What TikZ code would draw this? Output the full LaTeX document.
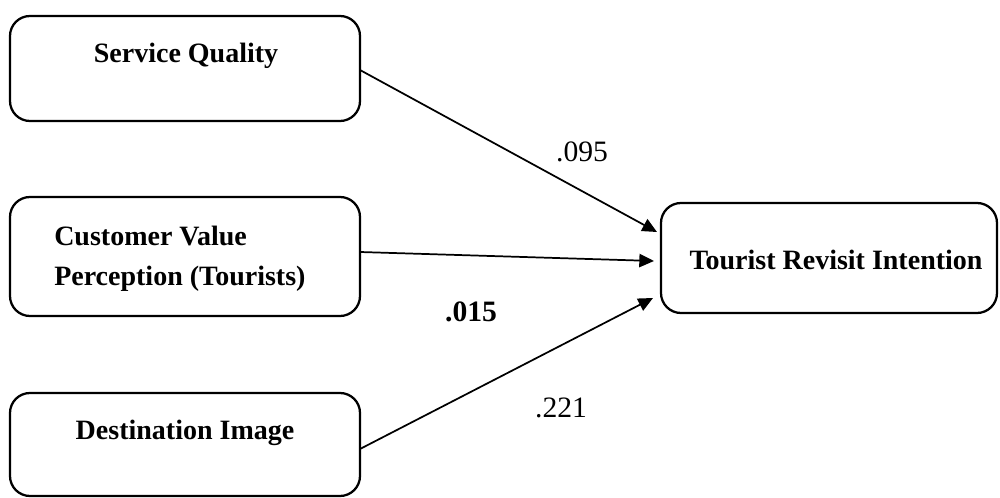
\documentclass[tikz,border=0pt]{standalone}
\usepackage{fontspec}
\setmainfont{Liberation Serif}
\usetikzlibrary{arrows.meta}
\begin{document}
\begin{tikzpicture}[x=0.75pt,y=-0.75pt,
  box/.style={draw, line width=1.7pt, rounded corners=15pt, inner sep=0pt, outer sep=0pt},
  boxtext/.style={inner sep=0pt, font=\bfseries\fontsize{21}{30.5}\selectfont},
  coef/.style={inner sep=0pt, font=\fontsize{22.2}{26}\selectfont},
  path/.style={line width=1.3pt, -{Triangle[length=11pt,width=10pt]}}]
\useasboundingbox (0,0) rectangle (1000,498);
% boxes
\node[box, minimum width=262.5pt, minimum height=78.75pt] (sq) at (185,68.5) {};
\node[box, minimum width=262.5pt, minimum height=89.25pt] (cv) at (185,256.5) {};
\node[box, minimum width=262.5pt, minimum height=77.25pt] (di) at (185,444.5) {};
\node[box, minimum width=252pt, minimum height=82.5pt] (tri) at (829,258) {};
% texts
\node[boxtext, anchor=base] (sqt) at (186,63) {Service Quality};
\node[boxtext, anchor=base west, align=left] (cvt) at (54,286) {Customer Value\\Perception (Tourists)};
\node[boxtext, anchor=base] (dit) at (185,440) {Destination Image};
\node[boxtext, anchor=base] (trit) at (836,270) {Tourist Revisit Intention};
% end points
\coordinate (t1) at ([shift={(-4,-26)}]tri.west);
\coordinate (t2) at ([shift={(-7,3)}]tri.west);
\coordinate (t3) at ([shift={(-8,40)}]tri.west);
\coordinate (s1) at ([shift={(0,1.5)}]sq.east);
\coordinate (s2) at ([shift={(0,-4.5)}]cv.east);
\coordinate (s3) at ([shift={(0,4.5)}]di.east);
\draw[path] (s1) -- (t1);
\draw[path] (s2) -- (t2);
\draw[path] (s3) -- (t3);
% coefficients
\node[coef] (c1) at (582,152) {.095};
\node[coef, font=\bfseries\fontsize{22.2}{26}\selectfont] (c2) at (471,312) {.015};
\node[coef] (c3) at (561,408) {.221};
\end{tikzpicture}
\end{document}
